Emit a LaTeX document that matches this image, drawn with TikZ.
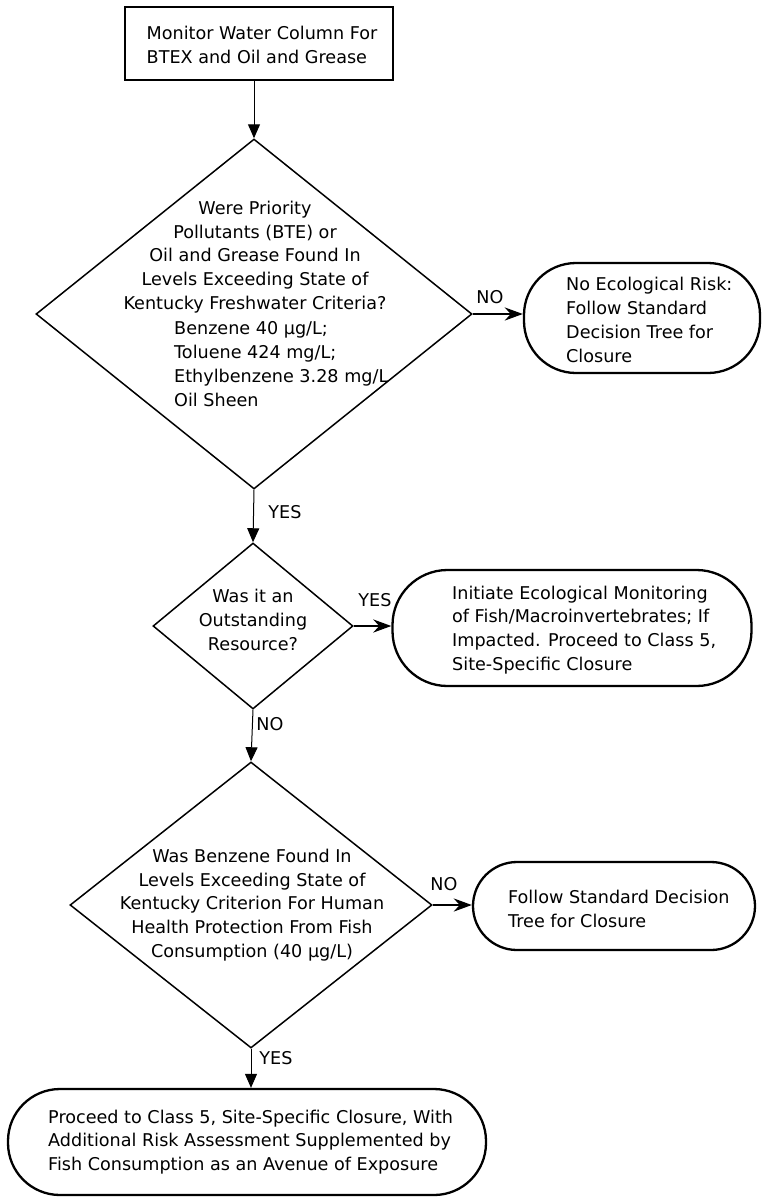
\documentclass[tikz,border=0pt]{standalone}
\usepackage{fontspec}
\setmainfont{DejaVu Sans}
\usetikzlibrary{shapes.geometric,arrows.meta}
\begin{document}
\begin{tikzpicture}[x=1pt,y=-1pt]
\tikzset{
 txt/.style={font=\fontsize{17.6}{23.8}\selectfont, inner sep=0pt},
 dia/.style={diamond, draw, line width=1.5pt, inner sep=0pt},
 term/.style={rectangle, draw, line width=2.3pt},
 procbox/.style={rectangle, draw, line width=1.6pt},
 varrow/.style={line width=1pt, -{Triangle[width=12pt,length=14pt]}},
 harrow/.style={line width=2.6pt, -{Stealth[width=13pt,length=18pt]}}
}
\useasboundingbox (0,0) rectangle (763,1203);

% top box
\node[procbox, minimum width=268pt, minimum height=73pt] (n1) at (259,43.5) {};
\node[txt, align=left] (n1t) at (262,45) {Monitor Water Column For\\BTEX and Oil and Grease};

% diamond 1
\node[dia, minimum width=436pt, minimum height=350pt] (d1) at (254,314) {};
\node[txt, align=center] (d1a) at (255,257) {Were Priority\\Pollutants (BTE) or\\Oil and Grease Found In\\Levels Exceeding State of\\Kentucky Freshwater Criteria?};
\node[txt, align=left, anchor=west] (d1b) at (174,364) {Benzene 40 µg/L;\\Toluene 424 mg/L;\\Ethylbenzene 3.28 mg/L\\Oil Sheen};

% terminal 1
\node[term, rounded corners=52pt, minimum width=236pt, minimum height=110pt] (o1) at (642,318) {};
\node[txt, align=left, anchor=west] (o1t) at (566,320) {No Ecological Risk:\\Follow Standard\\Decision Tree for\\Closure};

% diamond 2
\node[dia, minimum width=200pt, minimum height=166pt] (d2) at (253,626) {};
\node[txt, align=center] (d2t) at (253,620) {Was it an\\Outstanding\\Resource?};

% terminal 2
\node[term, rounded corners=55pt, minimum width=359pt, minimum height=116pt] (o2) at (572,628) {};
\node[txt, align=left, anchor=west] (o2t) at (452,630) {Initiate Ecological Monitoring\\of Fish/Macroinvertebrates; If\\Impacted. Proceed to Class 5,\\Site-Specific Closure};

% diamond 3
\node[dia, minimum width=362pt, minimum height=286pt] (d3) at (251,905) {};
\node[txt, align=center] (d3t) at (252,905) {Was Benzene Found In\\Levels Exceeding State of\\Kentucky Criterion For Human\\Health Protection From Fish\\Consumption (40 µg/L)};

% terminal 3
\node[term, rounded corners=44pt, minimum width=282pt, minimum height=88pt] (o3) at (614,906) {};
\node[txt, align=left, anchor=west] (o3t) at (508,909) {Follow Standard Decision\\Tree for Closure};

% terminal 4
\node[term, rounded corners=52pt, minimum width=478pt, minimum height=106pt] (o4) at (247,1142) {};
\node[txt, align=left, anchor=west] (o4t) at (48,1142) {Proceed to Class 5, Site-Specific Closure, With\\Additional Risk Assessment Supplemented by\\Fish Consumption as an Avenue of Exposure};

% connectors
\draw[varrow] (n1.south -| d1.north) -- (d1.north);
\draw[varrow] (d1.south) -- (d2.north);
\draw[varrow] (d2.south) -- (d3.north);
\draw[varrow] (d3.south) -- (d3.south |- o4.north);
\draw[harrow] (d1.east) -- (d1.east -| o1.west);
\draw[harrow] (d2.east) -- (d2.east -| o2.west);
\draw[harrow] (d3.east) -- (d3.east -| o3.west);

% labels
\node[txt] (yes1) at (285,512) {YES};
\node[txt] (no1) at (490,297) {NO};
\node[txt] (yes2) at (375,600) {YES};
\node[txt] (no2) at (270,724) {NO};
\node[txt] (no3) at (444,884) {NO};
\node[txt] (yes3) at (276,1058) {YES};
\end{tikzpicture}
\end{document}
